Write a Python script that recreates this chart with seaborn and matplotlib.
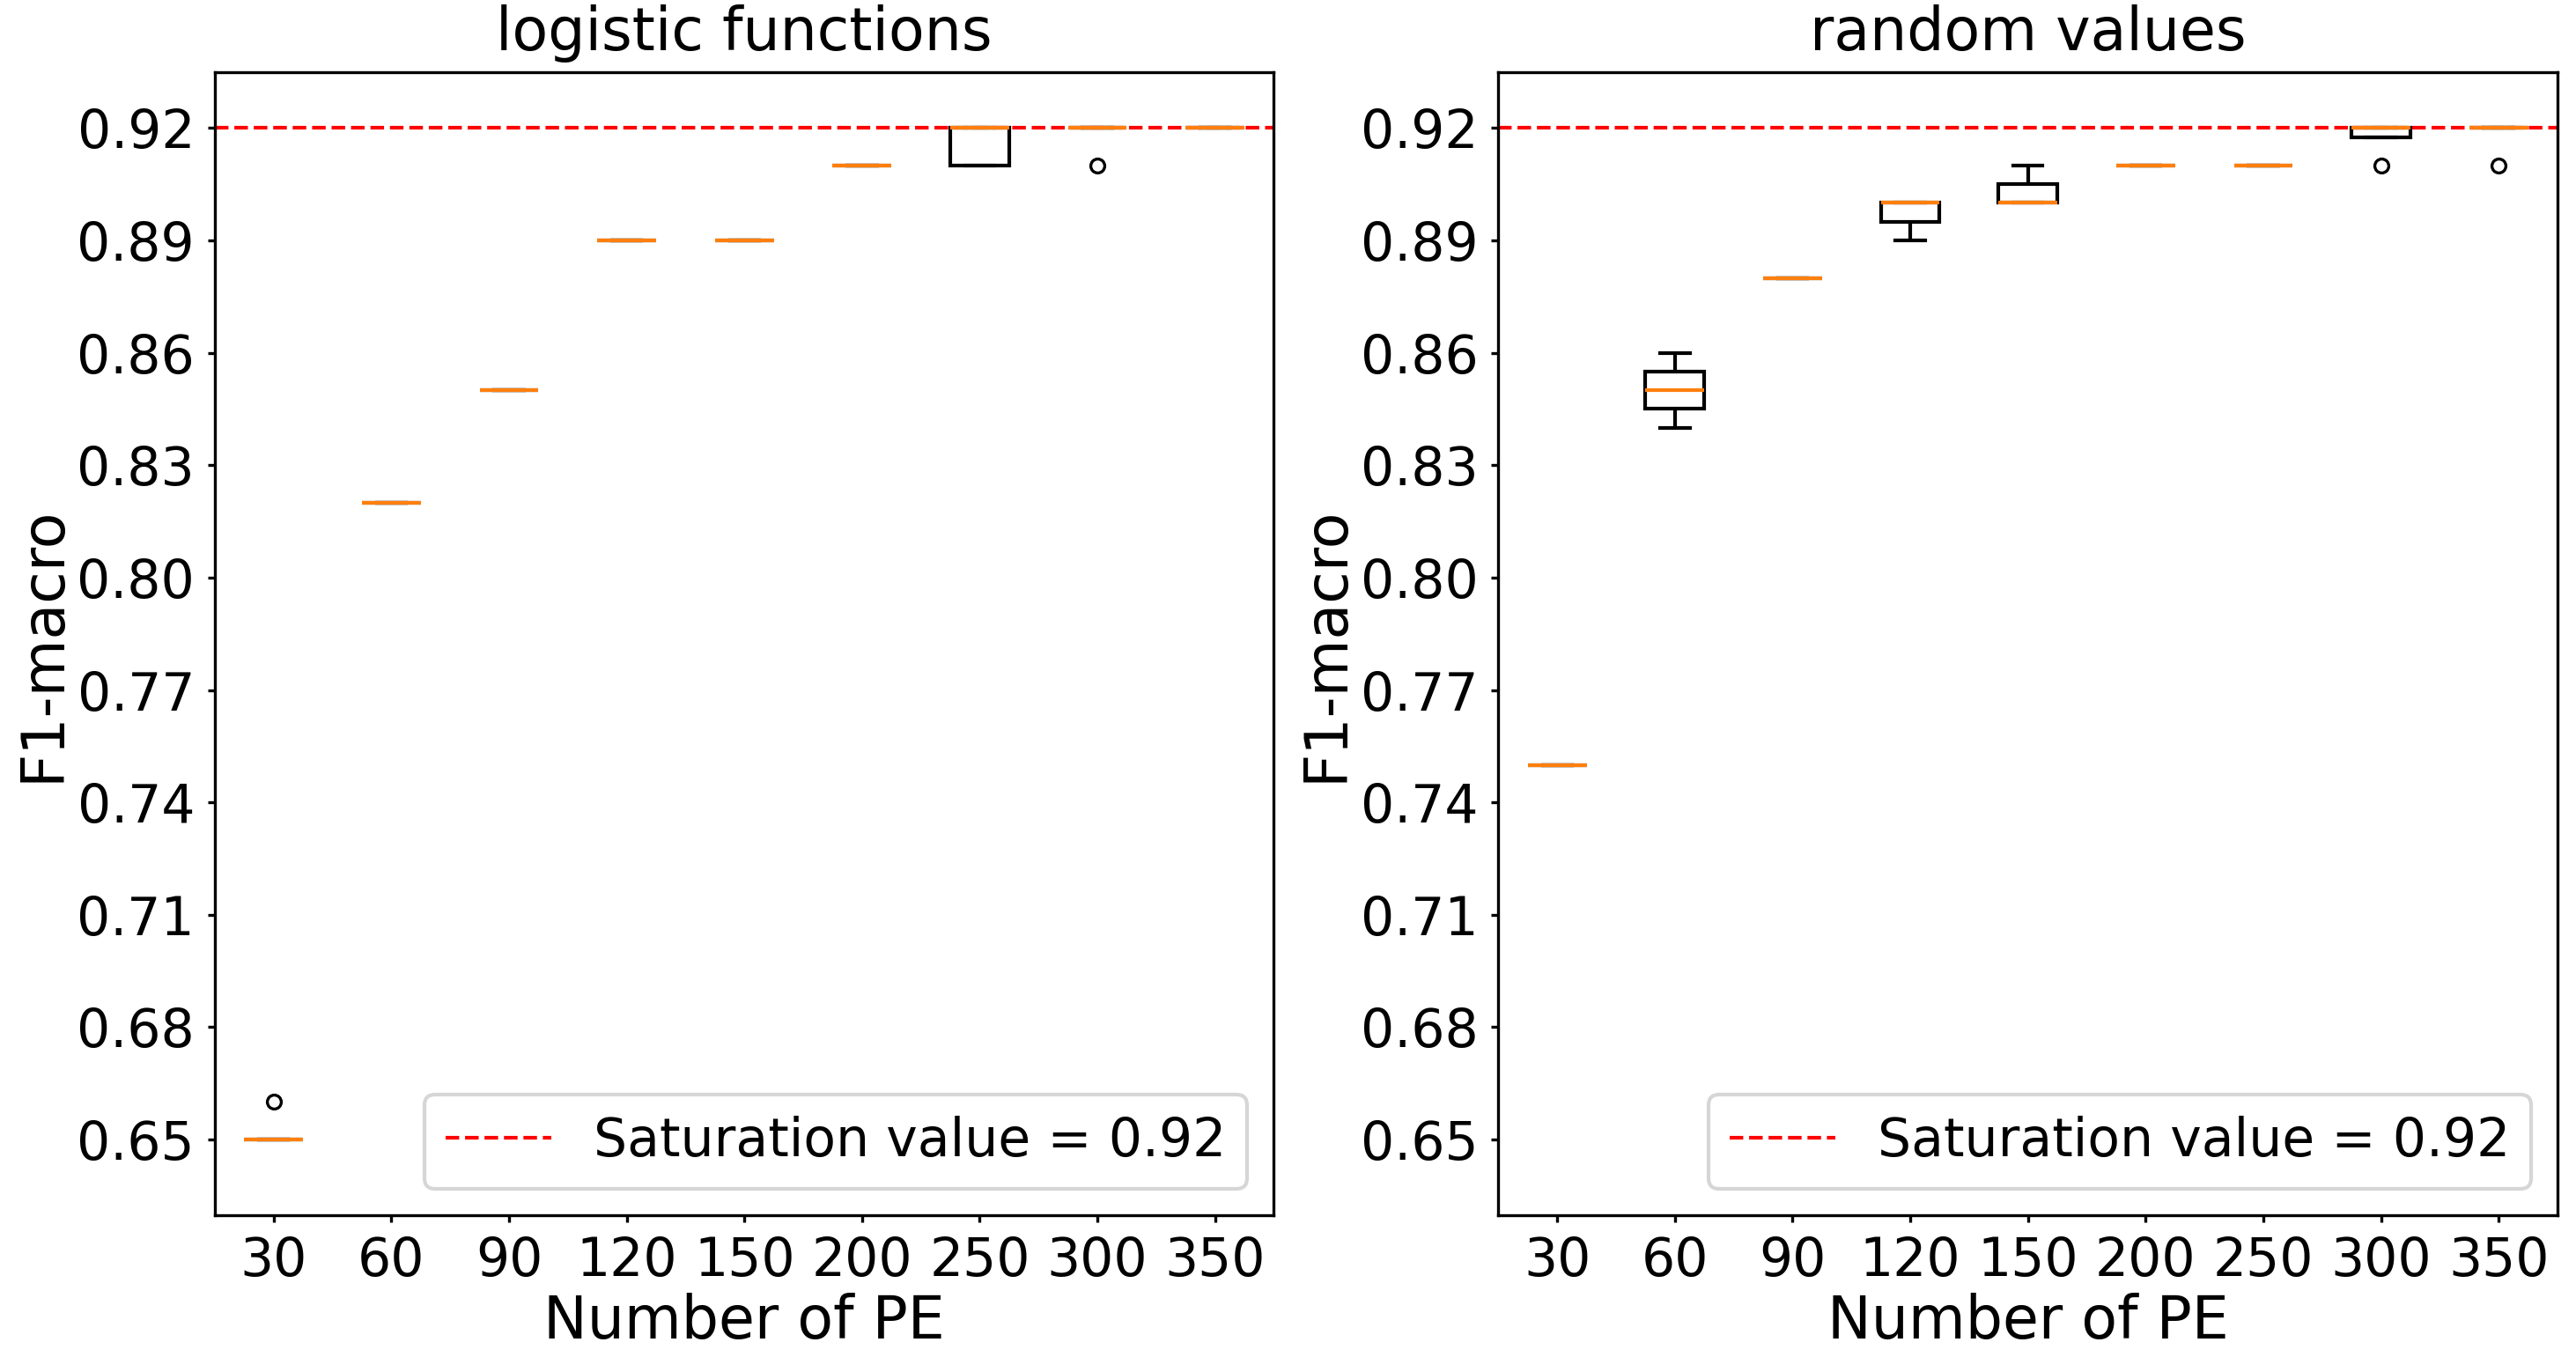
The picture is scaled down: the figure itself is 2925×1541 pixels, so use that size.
import pandas as pd
import matplotlib
matplotlib.use('Agg')
import matplotlib.pyplot as plt
import seaborn as sns

# PE counts on the x axis
pe_labels = ['30', '60', '90', '120', '150', '200', '250', '300', '350']

# F1-macro runs per PE count
logistic_runs = {
    '30': [0.65, 0.65, 0.65, 0.65, 0.66],
    '60': [0.82, 0.82, 0.82],
    '90': [0.85, 0.85, 0.85],
    '120': [0.89, 0.89, 0.89],
    '150': [0.89, 0.89, 0.89],
    '200': [0.91, 0.91, 0.91],
    '250': [0.91, 0.91, 0.92, 0.92, 0.92],
    '300': [0.91, 0.92, 0.92, 0.92, 0.92],
    '350': [0.92, 0.92, 0.92],
}
random_runs = {
    '30': [0.75, 0.75, 0.75],
    '60': [0.84, 0.85, 0.86],
    '90': [0.88, 0.88, 0.88],
    '120': [0.89, 0.90, 0.90],
    '150': [0.90, 0.90, 0.91],
    '200': [0.91, 0.91, 0.91],
    '250': [0.91, 0.91, 0.91],
    '300': [0.91, 0.92, 0.92, 0.92],
    '350': [0.91, 0.92, 0.92, 0.92, 0.92],
}
saturation = 0.92
yticks = [0.65, 0.68, 0.71, 0.74, 0.77, 0.80, 0.83, 0.86, 0.89, 0.92]
titles = ['logistic functions', 'random values']


def to_frame(runs):
    rows = []
    for pe in pe_labels:
        for v in runs[pe]:
            rows.append({'PE': pe, 'F1': v})
    return pd.DataFrame(rows)


fig, axes = plt.subplots(1, 2, figsize=(9.75, 5.1367), dpi=300)
plt.subplots_adjust(left=0.0834, right=0.9928, bottom=0.1045, top=0.9468, wspace=0.212)

for ax, runs, title in zip(axes, [logistic_runs, random_runs], titles):
    df = to_frame(runs)
    sns.boxplot(data=df, x='PE', y='F1', order=pe_labels, ax=ax, width=0.5,
                color='white', linecolor='black', linewidth=1.0,
                medianprops=dict(color='#ff7f0e', linewidth=1.0),
                flierprops=dict(marker='o', markerfacecolor='none',
                                markeredgecolor='black', markersize=3.8,
                                markeredgewidth=0.8))
    ax.axhline(saturation, color='red', linestyle='--', linewidth=1.0,
               label=f'Saturation value = {saturation}')
    ax.set_ylim(0.6298, 0.9349)
    ax.set_yticks(yticks)
    ax.set_yticklabels([f'{t:.2f}' for t in yticks])
    ax.set_title(title, fontsize=16)
    ax.set_xlabel('Number of PE', fontsize=16, labelpad=1.5)
    ax.set_ylabel('F1-macro', fontsize=16, labelpad=1.5)
    ax.tick_params(labelsize=14.4, length=2)
    ax.legend(loc='lower right', fontsize=14.4)

fig.savefig('out.png', dpi=300)
